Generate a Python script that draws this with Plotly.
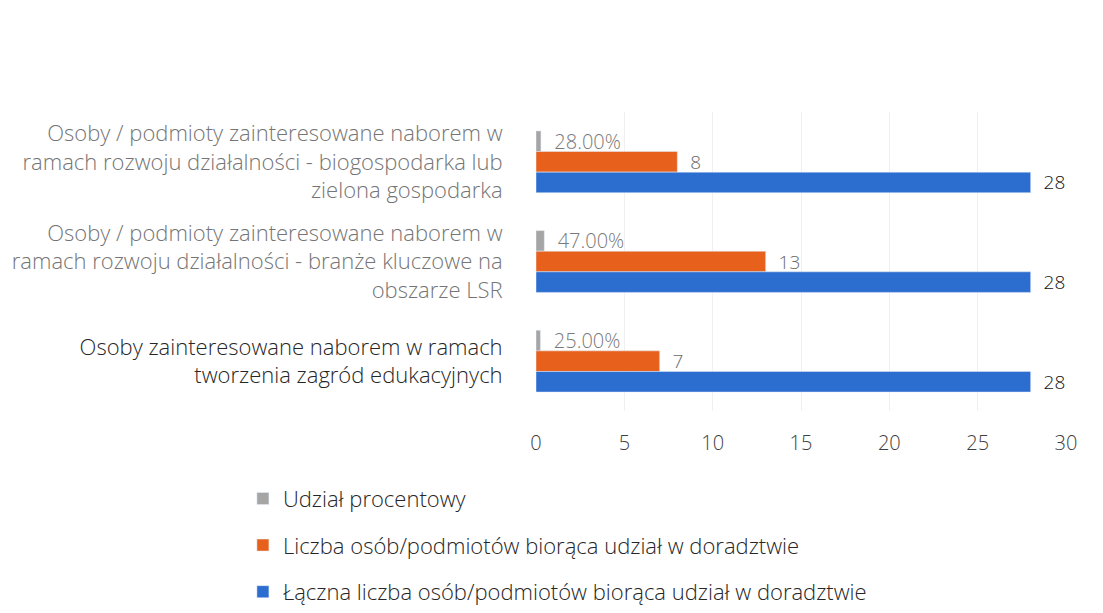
import plotly.graph_objects as go

categories = [
    "Osoby / podmioty zainteresowane naborem w<br>ramach rozwoju działalności - biogospodarka lub<br>zielona gospodarka",
    "Osoby / podmioty zainteresowane naborem w<br>ramach rozwoju działalności - branże kluczowe na<br>obszarze LSR",
    "Osoby zainteresowane naborem w ramach<br>tworzenia zagród edukacyjnych",
]
category_colors = ["#757575", "#757575", "#262626"]
series_names = [
    "Udział procentowy",
    "Liczba osób/podmiotów biorąca udział w doradztwie",
    "Łączna liczba osób/podmiotów biorąca udział w doradztwie",
]
share = [0.28, 0.47, 0.25]
count = [8, 13, 7]
total = [28, 28, 28]
x_ticks = [0, 5, 10, 15, 20, 25, 30]

FONT = "'Open Sans', Lato, sans-serif"
PAD = "\u00a0\u00a0"

fig = go.Figure()
fig.add_trace(go.Bar(
    y=categories, x=share, orientation="h", name=series_names[0],
    marker=dict(color="#a5a5a5"), texttemplate=PAD + "%{x:.2%}", textposition="outside",
    textfont=dict(color="#7a7a7a", size=20, weight=300), cliponaxis=False,
    constraintext="none", legendgroup="a",
))
fig.add_trace(go.Bar(
    y=categories, x=count, orientation="h", name=series_names[1],
    marker=dict(color="#e8611c"), texttemplate=PAD + "%{x}", textposition="outside",
    textfont=dict(color="#6a6a6a", size=19, weight=300), cliponaxis=False,
    constraintext="none", legendgroup="b",
))
fig.add_trace(go.Bar(
    y=categories, x=total, orientation="h", name=series_names[2],
    marker=dict(color="#2c6dd0"), texttemplate=PAD + "%{x}", textposition="outside",
    textfont=dict(color="#111111", size=19, weight=300), cliponaxis=False,
    constraintext="none", legendgroup="c",
))

ticktext = [f'<span style="color:{c}">{t}</span>' for t, c in zip(categories, category_colors)]

fig.update_layout(
    width=1103, height=613,
    paper_bgcolor="white", plot_bgcolor="white",
    font=dict(family=FONT, size=18, color="#404040"),
    barmode="group", bargap=0.38, bargroupgap=0.0,
    margin=dict(l=528, r=45, t=104, b=210, autoexpand=False),
    xaxis=dict(range=[0, 30], tickvals=x_ticks, showgrid=True, gridcolor="#f0f0f0",
               gridwidth=1, zeroline=False, showline=False,
               ticks="outside", ticklen=14, tickcolor="rgba(0,0,0,0)",
               tickfont=dict(size=20, color="#404040", weight=300)),
    yaxis=dict(autorange="reversed", tickvals=categories, ticktext=ticktext,
               showgrid=False, zeroline=False, showline=False,
               ticks="outside", ticklen=28, tickcolor="rgba(0,0,0,0)",
               tickfont=dict(size=22, weight=300)),
    legend=dict(orientation="v", x=-0.553, xanchor="left", y=-0.223, yanchor="top",
                traceorder="grouped", tracegroupgap=15,
                font=dict(size=22, color="#262626", weight=300), itemwidth=30),
    showlegend=True,
)

fig.write_html("out.html")
